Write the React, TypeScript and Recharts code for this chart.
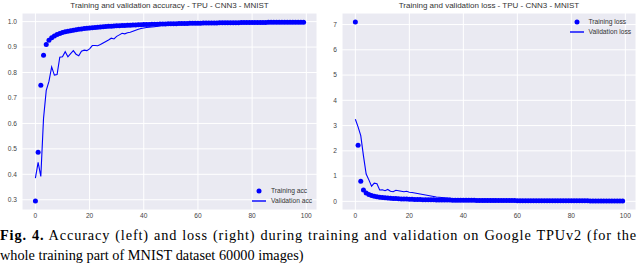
import { CartesianGrid, ComposedChart, Legend, Line, XAxis, YAxis } from 'recharts'

const epochs = Array.from({ length: 100 }, (_, i) => i)

const trainAcc = [
  0.295, 0.487, 0.75, 0.868, 0.91, 0.927, 0.937, 0.944, 0.949, 0.953,
  0.957, 0.96, 0.962, 0.964, 0.966, 0.968, 0.97, 0.971, 0.973, 0.974,
  0.975, 0.976, 0.977, 0.978, 0.979, 0.98, 0.981, 0.982, 0.982, 0.983,
  0.984, 0.984, 0.985, 0.985, 0.986, 0.986, 0.987, 0.987, 0.988, 0.988,
  0.989, 0.989, 0.989, 0.99, 0.99, 0.99, 0.991, 0.991, 0.991, 0.992,
  0.992, 0.992, 0.992, 0.993, 0.993, 0.993, 0.993, 0.994, 0.994, 0.994,
  0.994, 0.994, 0.995, 0.995, 0.995, 0.995, 0.995, 0.995, 0.996, 0.996,
  0.996, 0.996, 0.996, 0.996, 0.996, 0.996, 0.997, 0.997, 0.997, 0.997,
  0.997, 0.997, 0.997, 0.997, 0.997, 0.997, 0.998, 0.998, 0.998, 0.998,
  0.998, 0.998, 0.998, 0.998, 0.998, 0.998, 0.998, 0.998, 0.998, 0.998,
]

const valAcc = [
  0.385, 0.447, 0.392, 0.62, 0.73, 0.765, 0.822, 0.79, 0.792, 0.86,
  0.862, 0.882, 0.862, 0.874, 0.886, 0.872, 0.866, 0.884, 0.888, 0.886,
  0.893, 0.906, 0.906, 0.905, 0.91, 0.916, 0.922, 0.928, 0.935, 0.932,
  0.942, 0.948, 0.954, 0.952, 0.956, 0.958, 0.962, 0.966, 0.97, 0.973,
  0.975, 0.977, 0.978, 0.979, 0.98, 0.982, 0.984, 0.986, 0.988, 0.989,
  0.99, 0.99, 0.991, 0.991, 0.991, 0.992, 0.992, 0.992, 0.992, 0.993,
  0.993, 0.993, 0.993, 0.993, 0.993, 0.994, 0.993, 0.994, 0.994, 0.994,
  0.994, 0.994, 0.994, 0.994, 0.994, 0.994, 0.994, 0.994, 0.994, 0.994,
  0.994, 0.994, 0.994, 0.994, 0.994, 0.994, 0.994, 0.994, 0.994, 0.994,
  0.994, 0.994, 0.994, 0.994, 0.994, 0.994, 0.994, 0.994, 0.994, 0.994,
]

const trainLoss = [
  7.1, 2.22, 0.8, 0.45, 0.33, 0.27, 0.23, 0.2, 0.18, 0.165,
  0.15, 0.14, 0.13, 0.122, 0.115, 0.108, 0.102, 0.097, 0.092, 0.088,
  0.084, 0.08, 0.077, 0.074, 0.071, 0.068, 0.066, 0.063, 0.061, 0.059,
  0.057, 0.055, 0.053, 0.052, 0.05, 0.049, 0.047, 0.046, 0.045, 0.044,
  0.043, 0.042, 0.041, 0.04, 0.039, 0.038, 0.037, 0.036, 0.036, 0.035,
  0.034, 0.033, 0.033, 0.032, 0.031, 0.031, 0.03, 0.03, 0.029, 0.029,
  0.028, 0.028, 0.027, 0.027, 0.026, 0.026, 0.025, 0.025, 0.025, 0.024,
  0.024, 0.023, 0.023, 0.023, 0.022, 0.022, 0.022, 0.021, 0.021, 0.021,
  0.02, 0.02, 0.02, 0.019, 0.019, 0.019, 0.019, 0.018, 0.018, 0.018,
  0.018, 0.017, 0.017, 0.017, 0.017, 0.016, 0.016, 0.016, 0.016, 0.015,
]

const valLoss = [
  3.25, 2.95, 2.6, 1.8, 1.08, 0.85, 0.6, 0.72, 0.7, 0.45,
  0.46, 0.42, 0.47, 0.4, 0.38, 0.44, 0.42, 0.4, 0.38, 0.4,
  0.36, 0.35, 0.33, 0.31, 0.29, 0.27, 0.25, 0.23, 0.21, 0.19,
  0.17, 0.16, 0.15, 0.14, 0.13, 0.12, 0.11, 0.1, 0.1, 0.09,
  0.09, 0.088, 0.086, 0.085, 0.083, 0.082, 0.08, 0.08, 0.079, 0.078,
  0.077, 0.076, 0.076, 0.075, 0.075, 0.074, 0.074, 0.073, 0.073, 0.072,
  0.072, 0.072, 0.071, 0.071, 0.071, 0.07, 0.07, 0.07, 0.07, 0.069,
  0.069, 0.069, 0.069, 0.068, 0.068, 0.068, 0.068, 0.068, 0.067, 0.067,
  0.067, 0.067, 0.067, 0.066, 0.066, 0.066, 0.066, 0.066, 0.066, 0.065,
  0.065, 0.065, 0.065, 0.065, 0.065, 0.065, 0.064, 0.064, 0.064, 0.064,
]

const xTicks = [0, 20, 40, 60, 80, 100]
const accTicks = [0.3, 0.4, 0.5, 0.6, 0.7, 0.8, 0.9, 1.0]
const lossTicks = [0, 1, 2, 3, 4, 5, 6, 7]

const accRows = epochs.map((e, i) => ({ epoch: e, train: trainAcc[i], val: valAcc[i] }))
const lossRows = epochs.map((e, i) => ({ epoch: e, train: trainLoss[i], val: valLoss[i] }))

const BLUE = '#0000ff'
const SANS = '"Liberation Sans", Arial, sans-serif'
const SERIF = '"Liberation Serif", "Times New Roman", serif'
const tickStyle = { fontSize: 6.6, fill: '#444', fontFamily: SANS }

type LegendItem = { label: string; kind: 'dot' | 'line' }

const LegendBox = ({ items }: { items: LegendItem[] }) => (
  <div style={{ fontFamily: SANS, fontSize: 6.7, color: '#333' }}>
    {items.map((it) => (
      <div key={it.label} style={{ display: 'flex', alignItems: 'center', height: 10 }}>
        <svg width={16} height={10}>
          {it.kind === 'dot' ? (
            <circle cx={8} cy={5} r={2.5} fill={BLUE} />
          ) : (
            <line x1={1} x2={15} y1={5} y2={5} stroke={BLUE} strokeWidth={1.4} />
          )}
        </svg>
        <span style={{ marginLeft: 4, whiteSpace: 'nowrap' }}>{it.label}</span>
      </div>
    ))}
  </div>
)

interface PanelProps {
  rows: { epoch: number; train: number; val: number }[]
  title: string
  yDomain: [number, number]
  yTicks: number[]
  fmt: (v: number) => string
  legend: LegendItem[]
  legendPos: { left: number; top: number }
  right: number
}

const Panel = ({ rows, title, yDomain, yTicks, fmt, legend, legendPos, right }: PanelProps) => (
  <div style={{ position: 'relative', width: 320, height: 225 }}>
    <div
      style={{
        position: 'absolute',
        left: 22,
        width: 320 - 22 - right,
        top: 1,
        textAlign: 'center',
        fontFamily: SANS,
        fontSize: 8,
        lineHeight: '10px',
        color: '#333',
        whiteSpace: 'nowrap',
      }}
    >
      {title}
    </div>
    <ComposedChart width={320} height={225} data={rows} margin={{ top: 13, right, bottom: 0, left: 0 }}>
      <CartesianGrid fill="#eaeaf2" stroke="#ffffff" strokeWidth={1} />
      <XAxis
        dataKey="epoch"
        type="number"
        domain={[-4.95, 103.95]}
        ticks={xTicks}
        interval={0}
        allowDataOverflow
        axisLine={false}
        tickLine={false}
        tickSize={0}
        tickMargin={3}
        height={15}
        tick={tickStyle}
      />
      <YAxis
        type="number"
        domain={yDomain}
        ticks={yTicks}
        interval={0}
        allowDataOverflow
        axisLine={false}
        tickLine={false}
        tickSize={0}
        tickMargin={5}
        width={22}
        tick={tickStyle}
        tickFormatter={fmt}
      />
      <Line
        dataKey="train"
        stroke="none"
        dot={{ r: 2.5, fill: BLUE, stroke: 'none' }}
        activeDot={false}
        isAnimationActive={false}
      />
      <Line
        dataKey="val"
        stroke={BLUE}
        strokeWidth={1.1}
        dot={false}
        activeDot={false}
        isAnimationActive={false}
      />
      <Legend
        layout="vertical"
        align="center"
        verticalAlign="middle"
        wrapperStyle={{ left: legendPos.left, top: legendPos.top, width: 'auto', height: 'auto' }}
        content={() => <LegendBox items={legend} />}
      />
    </ComposedChart>
  </div>
)

export default function App() {
  return (
    <div style={{ position: 'absolute', left: 0, top: 0, width: 640, height: 267, background: '#fff' }}>
      <div style={{ position: 'absolute', left: 0, top: 0 }}>
        <Panel
          rows={accRows}
          title="Training and validation accuracy - TPU - CNN3 - MNIST"
          yDomain={[0.2598, 1.0339]}
          yTicks={accTicks}
          fmt={(v) => v.toFixed(1)}
          legend={[
            { label: 'Training acc', kind: 'dot' },
            { label: 'Validation acc', kind: 'line' },
          ]}
          legendPos={{ left: 251, top: 185.5 }}
          right={3}
        />
      </div>
      <div style={{ position: 'absolute', left: 320, top: 0 }}>
        <Panel
          rows={lossRows}
          title="Training and validation loss - TPU - CNN3 - MNIST"
          yDomain={[-0.3428, 7.4578]}
          yTicks={lossTicks}
          fmt={(v) => String(v)}
          legend={[
            { label: 'Training loss', kind: 'dot' },
            { label: 'Validation loss', kind: 'line' },
          ]}
          legendPos={{ left: 248.5, top: 16.7 }}
          right={4}
        />
      </div>
      <div
        style={{
          position: 'absolute',
          left: 0,
          top: 225,
          width: 637,
          fontFamily: SERIF,
          fontSize: 14.3,
          lineHeight: '20px',
          color: '#000',
        }}
      >
        <div style={{ textAlign: 'justify', textAlignLast: 'justify', letterSpacing: 0.85, whiteSpace: 'normal' }}>
          <b>Fig. 4.</b> Accuracy (left) and loss (right) during training and validation on Google TPUv2 (for the
        </div>
        <div style={{ whiteSpace: 'nowrap' }}>whole training part of MNIST dataset 60000 images)</div>
      </div>
    </div>
  )
}
